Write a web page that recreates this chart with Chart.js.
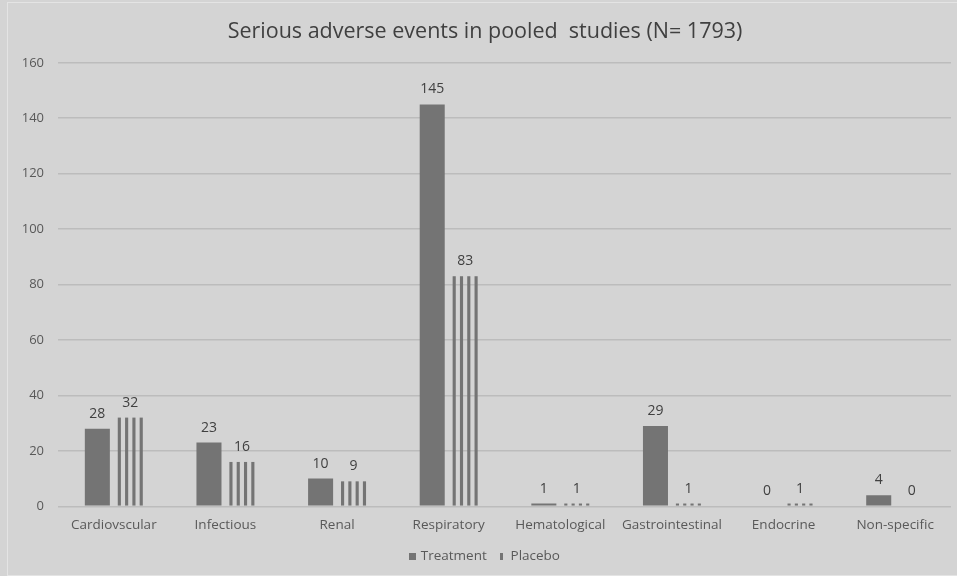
<!DOCTYPE html>
<html>
<head>
<meta charset="utf-8">
<script src="https://cdn.jsdelivr.net/npm/chart.js@4.4.1/dist/chart.umd.min.js"></script>
<style>
    html, body { margin: 0; padding: 0; background: #d4d4d4; }
    #wrap { position: relative; width: 957px; height: 576px; }
    #frame { position: absolute; left: 7px; top: 2px; width: 952px; height: 574px; border: 1px solid #e4e4e4; box-sizing: border-box; pointer-events: none; }
</style>
</head>
<body>
<div id="wrap">
    <canvas id="aeChart" width="957" height="576"></canvas>
    <div id="frame"></div>
</div>
<script>
const categories = ["Cardiovscular", "Infectious", "Renal", "Respiratory", "Hematological", "Gastrointestinal", "Endocrine", "Non-specific"];
const treatmentValues = [28, 23, 10, 145, 1, 29, 0, 4];
const placeboValues = [32, 16, 9, 83, 1, 1, 1, 0];
const yTicks = [0, 20, 40, 60, 80, 100, 120, 140, 160];

const BAR_COLOR = "#747474";
const TEXT_COLOR = "#595959";

// Small canvases used as legend markers
function marker(w, h) {
    const c = document.createElement("canvas");
    c.width = w;
    c.height = h;
    const g = c.getContext("2d");
    g.fillStyle = BAR_COLOR;
    g.fillRect(0, 0, w, h);
    return c;
}
const treatmentMarker = marker(7, 7);
const placeboMarker = marker(3, 7);

// Placebo bars are drawn as vertical stripes inside the bar rectangle
const stripePlugin = {
    id: "stripes",
    afterDatasetsDraw(chart) {
        const ctx = chart.ctx;
        const meta = chart.getDatasetMeta(1);
        ctx.save();
        ctx.fillStyle = BAR_COLOR;
        meta.data.forEach(bar => {
            const p = bar.getProps(["x", "y", "base", "width"], true);
            const left = p.x - p.width / 2;
            const top = Math.min(p.y, p.base);
            const h = Math.abs(p.base - p.y);
            if (h <= 0) return;
            const s = p.width * 0.125;
            const gap = (p.width - 4 * s) / 3;
            for (let i = 0; i < 4; i++) {
                ctx.fillRect(left + i * (s + gap), top, s, h);
            }
        });
        ctx.restore();
    }
};

// Value labels above each bar
const valueLabels = {
    id: "valueLabels",
    afterDatasetsDraw(chart) {
        const ctx = chart.ctx;
        ctx.save();
        ctx.font = "14px 'Open Sans', sans-serif";
        ctx.fillStyle = "#404040";
        ctx.textAlign = "center";
        ctx.textBaseline = "alphabetic";
        chart.data.datasets.forEach((ds, i) => {
            chart.getDatasetMeta(i).data.forEach((bar, j) => {
                const p = bar.getProps(["x", "y"], true);
                ctx.fillText(String(ds.data[j]), p.x, p.y - 11);
            });
        });
        ctx.restore();
    }
};

const ctx = document.getElementById("aeChart").getContext("2d");
new Chart(ctx, {
    type: "bar",
    data: {
        labels: categories,
        datasets: [{
            label: "Treatment",
            data: treatmentValues,
            backgroundColor: BAR_COLOR,
            pointStyle: treatmentMarker,
            categoryPercentage: 0.59,
            barPercentage: 0.76
        }, {
            label: "Placebo",
            data: placeboValues,
            backgroundColor: "rgba(0,0,0,0)",
            pointStyle: placeboMarker,
            categoryPercentage: 0.59,
            barPercentage: 0.76
        }]
    },
    options: {
        responsive: false,
        animation: false,
        layout: { padding: { left: 19, right: 6, top: 19, bottom: 3 } },
        plugins: {
            title: {
                display: true,
                text: "Serious adverse events in pooled  studies (N= 1793)",
                color: "#404040",
                font: { family: "'Open Sans', sans-serif", size: 21.5, weight: "normal" },
                padding: { top: 0, bottom: 18 }
            },
            legend: {
                position: "bottom",
                labels: {
                    usePointStyle: true,
                    boxWidth: 8,
                    boxHeight: 8,
                    pointStyleWidth: 4,
                    padding: 13,
                    color: TEXT_COLOR,
                    font: { family: "'Open Sans', sans-serif", size: 13.5 }
                }
            },
            tooltip: { enabled: false }
        },
        scales: {
            x: {
                grid: { display: false },
                border: { display: false },
                ticks: {
                    color: TEXT_COLOR,
                    font: { family: "'Open Sans', sans-serif", size: 13.5 },
                    padding: 3
                }
            },
            y: {
                min: 0,
                max: 160,
                afterBuildTicks(scale) {
                    scale.ticks = yTicks.map(v => ({ value: v }));
                },
                afterFit(scale) {
                    scale.width = 39;
                },
                grid: { color: "#bcbcbc", lineWidth: 1.5, drawTicks: false },
                border: { display: false },
                ticks: {
                    color: TEXT_COLOR,
                    font: { family: "'Open Sans', sans-serif", size: 13 },
                    padding: 14
                }
            }
        }
    },
    plugins: [stripePlugin, valueLabels]
});
</script>
</body>
</html>
